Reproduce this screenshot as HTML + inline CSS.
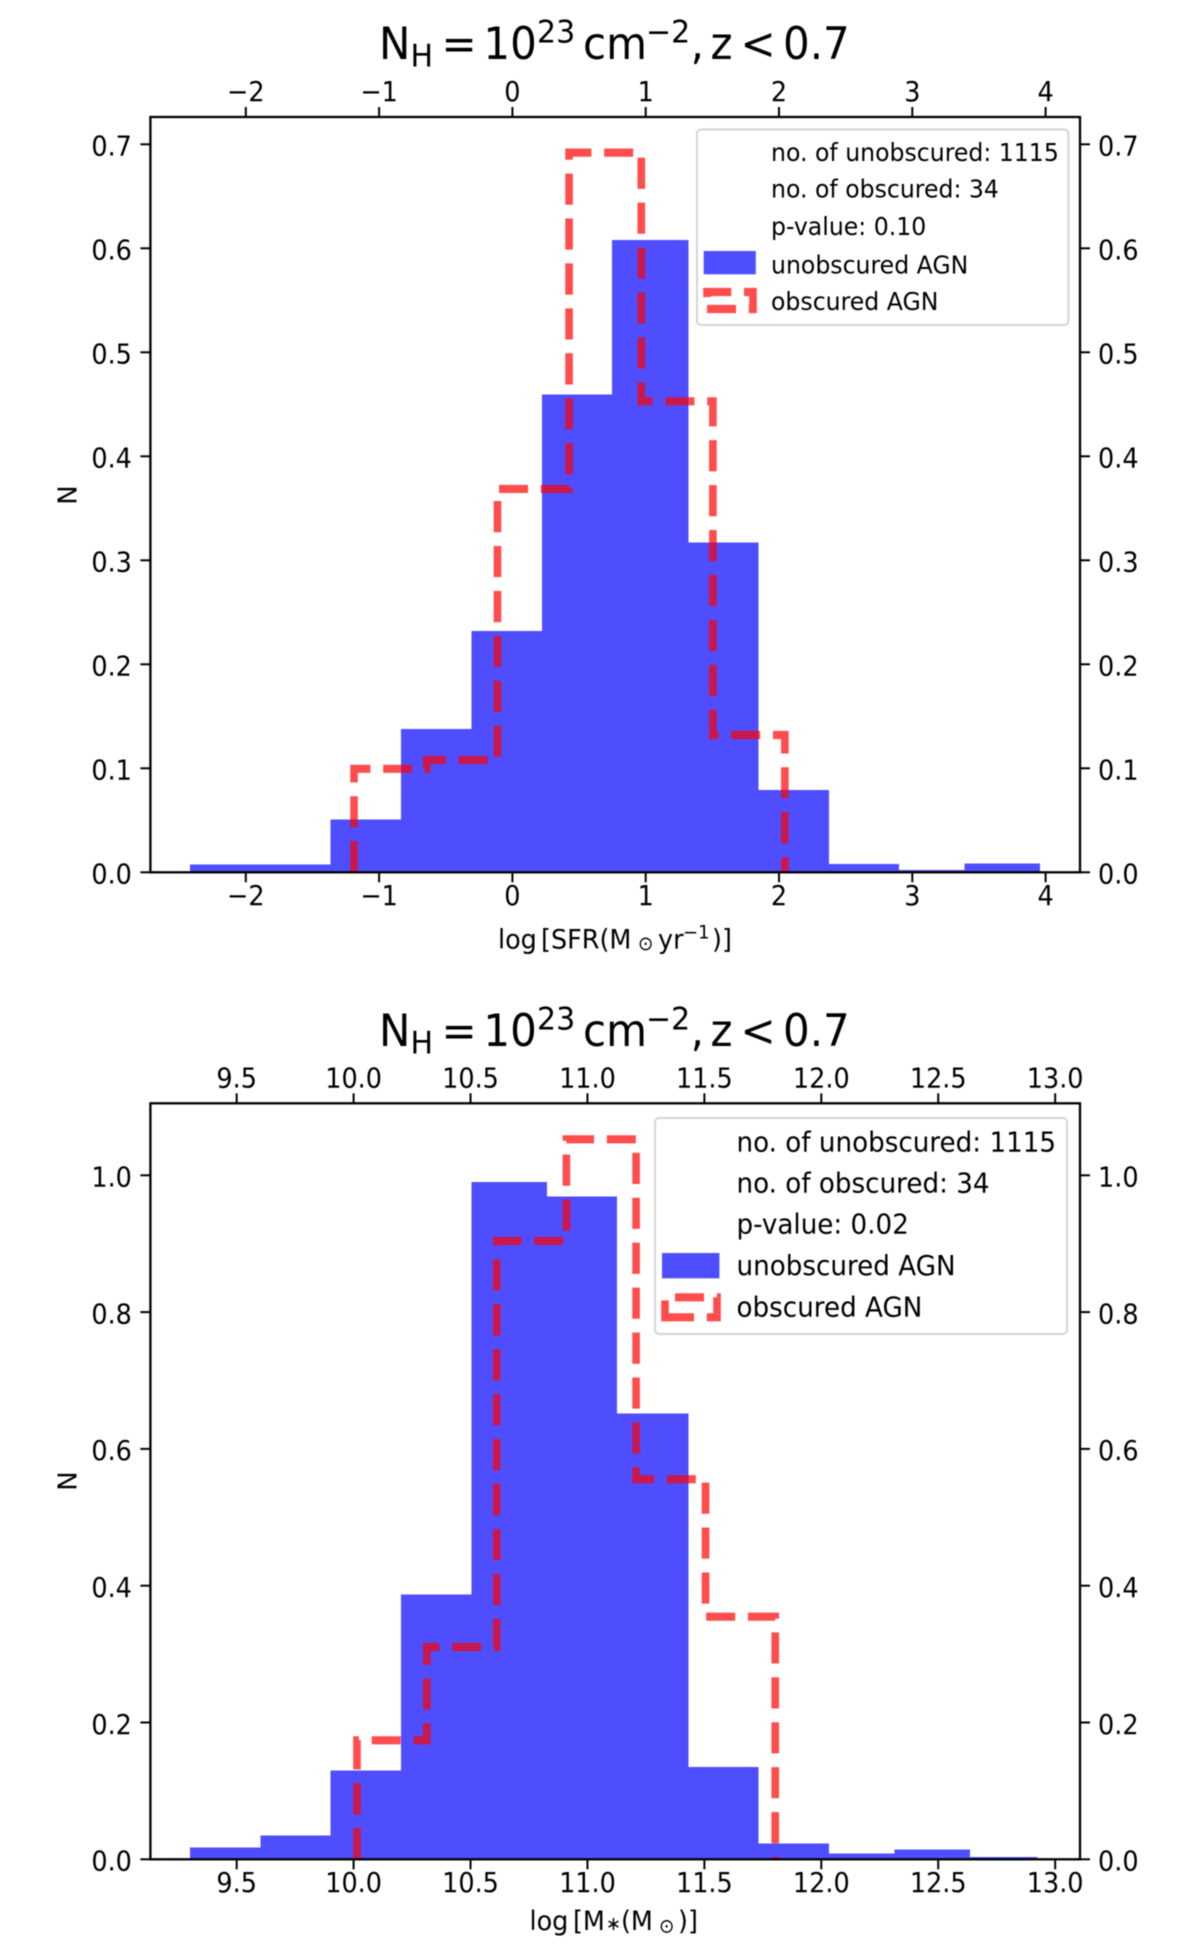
<!DOCTYPE html>
<html lang="en">
<head>
<meta charset="utf-8">
<title>Unobscured vs obscured AGN histograms</title>
<style>
html,body{margin:0;padding:0;background:#fff;}
svg{display:block;filter:blur(0.4px);}
text{font-family:"DejaVu Sans","Liberation Sans",sans-serif;fill:#000;}
</style>
</head>
<body>
<svg id="figure" xmlns="http://www.w3.org/2000/svg" width="1200" height="1959" viewBox="0 0 1200 1959">
  <rect x="0" y="0" width="1200" height="1959" fill="#fff"/>

  <!-- top panel -->
  <g id="sfr-chart"></g>
  <g font-size="42">
    <text transform="translate(379,59) scale(1,1.05)">N</text>
    <text transform="translate(410.5,66.7) scale(1,1.05)" font-size="30">H</text>
    <text transform="translate(441.5,59) scale(1,1.05)">=</text>
    <text transform="translate(483.4,59) scale(1,1.05)">10</text>
    <text transform="translate(537,42.7) scale(1,1.05)" font-size="30">23</text>
    <text transform="translate(583,59) scale(1,1.05)">cm</text>
    <text transform="translate(646,42.7) scale(1,1.05)" font-size="30">−2</text>
    <text transform="translate(690.6,59) scale(1,1.05)">,</text>
    <text transform="translate(710.5,59) scale(1,1.05)">z</text>
    <text transform="translate(740.5,59) scale(1,1.05)">&lt;</text>
    <text transform="translate(783,59) scale(1,1.05)">0.7</text>
  </g>
  <text transform="translate(76.5,495) rotate(-90)" font-size="26" text-anchor="middle">N</text>
  <text transform="translate(0,948.3) scale(1,1.05)" font-size="25.5"><tspan x="498" y="0">log</tspan><tspan x="541" y="0">[SFR(M</tspan><tspan x="638" y="1.5" font-size="18.5">⊙</tspan><tspan x="658" y="0">yr</tspan><tspan x="683" y="-9.5" font-size="18">−1</tspan><tspan x="712" y="0">)]</tspan></text>
  <g>
    <rect x="697" y="129.5" width="371.4" height="195.5" rx="4" fill="#fff" fill-opacity="0.85" stroke="#d4d4d4" stroke-width="2"/>
    <rect x="703.7" y="251" width="52.1" height="23.3" fill="#4e4eff"/>
    <path transform="scale(1,1.075)" d="M707,287.44 H753 V271.63 H707 Z" fill="none" stroke="#ff0000" stroke-opacity="0.7" stroke-width="7.6" stroke-dasharray="29 12.8"/>
    <g font-size="23.6">
      <text transform="translate(771,161) scale(1,1.04)">no. of unobscured: 1115</text>
      <text transform="translate(771,197.7) scale(1,1.04)">no. of obscured: 34</text>
      <text transform="translate(771,235) scale(1,1.04)">p-value: 0.10</text>
      <text transform="translate(771,273.3) scale(1,1.04)">unobscured AGN</text>
      <text transform="translate(771,310) scale(1,1.04)">obscured AGN</text>
    </g>
  </g>

  <!-- bottom panel -->
  <g id="mass-chart"></g>
  <g font-size="42">
    <text transform="translate(379,1046) scale(1,1.05)">N</text>
    <text transform="translate(410.5,1053.7) scale(1,1.05)" font-size="30">H</text>
    <text transform="translate(441.5,1046) scale(1,1.05)">=</text>
    <text transform="translate(483.4,1046) scale(1,1.05)">10</text>
    <text transform="translate(537,1029.7) scale(1,1.05)" font-size="30">23</text>
    <text transform="translate(583,1046) scale(1,1.05)">cm</text>
    <text transform="translate(646,1029.7) scale(1,1.05)" font-size="30">−2</text>
    <text transform="translate(690.6,1046) scale(1,1.05)">,</text>
    <text transform="translate(710.5,1046) scale(1,1.05)">z</text>
    <text transform="translate(740.5,1046) scale(1,1.05)">&lt;</text>
    <text transform="translate(783,1046) scale(1,1.05)">0.7</text>
  </g>
  <text transform="translate(76.5,1481) rotate(-90)" font-size="26" text-anchor="middle">N</text>
  <text transform="translate(0,1930) scale(1,1.05)" font-size="25.5"><tspan x="529.5" y="0">log</tspan><tspan x="573" y="0">[M</tspan><tspan x="606" y="0" font-size="18">∗</tspan><tspan x="621" y="0">(M</tspan><tspan x="659" y="2.5" font-size="18.5">⊙</tspan><tspan x="678" y="0">)]</tspan></text>
  <g>
    <rect x="655" y="1118" width="412" height="216" rx="4" fill="#fff" fill-opacity="0.85" stroke="#d4d4d4" stroke-width="2"/>
    <rect x="662" y="1253" width="57.4" height="25.3" fill="#4e4eff"/>
    <path transform="scale(1,1.075)" d="M665,1225.4 H717 V1206.8 H665 Z" fill="none" stroke="#ff0000" stroke-opacity="0.7" stroke-width="7.6" stroke-dasharray="29 12.8"/>
    <g font-size="26.2">
      <text transform="translate(736.5,1151.7) scale(1,1.04)">no. of unobscured: 1115</text>
      <text transform="translate(736.5,1192.5) scale(1,1.04)">no. of obscured: 34</text>
      <text transform="translate(736.5,1233.5) scale(1,1.04)">p-value: 0.02</text>
      <text transform="translate(736.5,1275) scale(1,1.04)">unobscured AGN</text>
      <text transform="translate(736.5,1316.7) scale(1,1.04)">obscured AGN</text>
    </g>
  </g>
</svg>

<script>
// ---- top panel data (log SFR) ----
const sfrBinEdges = [-2.42, -1.892, -1.364, -0.836, -0.307, 0.221, 0.749, 1.32, 1.845, 2.374, 2.899, 3.393, 3.958];
const sfrUnobscured = [0.0073, 0.0073, 0.051, 0.138, 0.232, 0.4596, 0.608, 0.3173, 0.0791, 0.008, 0.0022, 0.0087];
const sfrObscuredEdges = [-1.188, -0.643, -0.112, 0.425, 0.967, 1.504, 2.044];
const sfrObscured = [0.0995, 0.108, 0.3686, 0.692, 0.4529, 0.132];
const sfrXTicks = [-2, -1, 0, 1, 2, 3, 4];
const sfrXTickLabels = ['−2', '−1', '0', '1', '2', '3', '4'];
const sfrYTicks = [0, 0.1, 0.2, 0.3, 0.4, 0.5, 0.6, 0.7];
const sfrYTickLabels = ['0.0', '0.1', '0.2', '0.3', '0.4', '0.5', '0.6', '0.7'];

// ---- bottom panel data (log stellar mass) ----
const massBinEdges = [9.3, 9.601, 9.902, 10.203, 10.504, 10.827, 11.127, 11.432, 11.731, 12.032, 12.312, 12.635, 12.924];
const massUnobscured = [0.017, 0.0345, 0.13, 0.387, 0.99, 0.969, 0.652, 0.135, 0.0234, 0.0088, 0.0146, 0.003];
const massObscuredEdges = [10.0145, 10.313, 10.612, 10.91, 11.208, 11.505, 11.803];
const massObscured = [0.174, 0.3104, 0.904, 1.0526, 0.5556, 0.3547];
const massXTicks = [9.5, 10, 10.5, 11, 11.5, 12, 12.5, 13];
const massXTickLabels = ['9.5', '10.0', '10.5', '11.0', '11.5', '12.0', '12.5', '13.0'];
const massYTicks = [0, 0.2, 0.4, 0.6, 0.8, 1];
const massYTickLabels = ['0.0', '0.2', '0.4', '0.6', '0.8', '1.0'];

const SVGNS = 'http://www.w3.org/2000/svg';
const TICK_SIZE = 25.5;
const TICK_STRETCH = 1.07;
const LINE_STRETCH = 1.075;

function linearScale(d0, p0, d1, p1) {
  return function (v) { return p0 + (v - d0) * (p1 - p0) / (d1 - d0); };
}

function shape(tag) {
  return document.createElementNS(SVGNS, tag);
}

function setLine(el, x1, y1, x2, y2) {
  el.setAttribute('x1', x1);
  el.setAttribute('y1', y1);
  el.setAttribute('x2', x2);
  el.setAttribute('y2', y2);
  el.setAttribute('stroke', '#000');
  el.setAttribute('stroke-width', '2');
}

function setLabel(el, x, y, anchor, str) {
  el.setAttribute('transform', 'translate(' + x + ',' + y + ') scale(1,' + TICK_STRETCH + ')');
  el.setAttribute('font-size', TICK_SIZE);
  el.setAttribute('text-anchor', anchor);
  el.textContent = str;
}

function drawPanel(root, c) {
  const left = c.left, right = c.right, top = c.top, bottom = c.bottom;

  // histogram bars
  c.values.forEach(function (v, i) {
    const bar = shape('rect');
    
    
    bar.setAttribute('x', c.x(c.edges[i]));
    bar.setAttribute('y', c.y(v));
    bar.setAttribute('width', c.x(c.edges[i + 1]) - c.x(c.edges[i]));
    bar.setAttribute('height', c.y(0) - c.y(v));
    bar.setAttribute('fill', '#4e4eff');
    bar.setAttribute('shape-rendering', 'crispEdges');
    root.appendChild(bar);
  });

  // obscured step outline; the source figure is stretched vertically, so the
  // dashes and stroke are laid out in unstretched space and then scaled
  function sy(v) { return c.y(v) / LINE_STRETCH; }
  let d = 'M' + c.x(c.stepEdges[0]) + ',' + sy(0);
  c.stepValues.forEach(function (v, i) {
    d += ' L' + c.x(c.stepEdges[i]) + ',' + sy(v);
    d += ' L' + c.x(c.stepEdges[i + 1]) + ',' + sy(v);
  });
  d += ' L' + c.x(c.stepEdges[c.stepEdges.length - 1]) + ',' + sy(0);
  const step = shape('path');
  
  
  step.setAttribute('transform', 'scale(1,' + LINE_STRETCH + ')');
  step.setAttribute('d', d);
  step.setAttribute('fill', 'none');
  step.setAttribute('stroke', '#ff0000');
  step.setAttribute('stroke-opacity', '0.7');
  step.setAttribute('stroke-width', '7.6');
  step.setAttribute('stroke-dasharray', '29 12.8');
  step.setAttribute('stroke-linejoin', 'miter');
  root.appendChild(step);

  // spines
  const frame = shape('rect');
  
  
  frame.setAttribute('x', left);
  frame.setAttribute('y', top);
  frame.setAttribute('width', right - left);
  frame.setAttribute('height', bottom - top);
  frame.setAttribute('fill', 'none');
  frame.setAttribute('stroke', '#000');
  frame.setAttribute('stroke-width', '2.3');
  root.appendChild(frame);

  // x ticks, top and bottom
  c.xTicks.forEach(function (t, i) {
    const px = c.x(t);
    const lowTick = shape('line');
    
    
    setLine(lowTick, px, bottom, px, bottom + 10);
    root.appendChild(lowTick);

    const highTick = shape('line');
    
    
    setLine(highTick, px, top, px, top - 10);
    root.appendChild(highTick);

    const lowLabel = shape('text');
    
    
    setLabel(lowLabel, px, bottom + 32.6, 'middle', c.xLabels[i]);
    root.appendChild(lowLabel);

    const highLabel = shape('text');
    
    
    setLabel(highLabel, px, top - 15.8, 'middle', c.xLabels[i]);
    root.appendChild(highLabel);
  });

  // y ticks, left and right
  c.yTicks.forEach(function (t, i) {
    const py = c.y(t);
    const leftTick = shape('line');
    
    
    setLine(leftTick, left, py, left - 10, py);
    root.appendChild(leftTick);

    const rightTick = shape('line');
    
    
    setLine(rightTick, right, py, right + 10, py);
    root.appendChild(rightTick);

    const leftLabel = shape('text');
    
    
    setLabel(leftLabel, left - 18.5, py + 11.3, 'end', c.yLabels[i]);
    root.appendChild(leftLabel);

    const rightLabel = shape('text');
    
    
    setLabel(rightLabel, right + 18, py + 11.3, 'start', c.yLabels[i]);
    root.appendChild(rightLabel);
  });
}

drawPanel(document.getElementById('sfr-chart'), {
  left: 150.4, right: 1080, top: 117, bottom: 872.3,
  x: linearScale(0, 512.4, 1, 645.7),
  y: linearScale(0, 872.3, 0.7, 144.3),
  edges: sfrBinEdges, values: sfrUnobscured,
  stepEdges: sfrObscuredEdges, stepValues: sfrObscured,
  xTicks: sfrXTicks, xLabels: sfrXTickLabels,
  yTicks: sfrYTicks, yLabels: sfrYTickLabels
});

drawPanel(document.getElementById('mass-chart'), {
  left: 150.4, right: 1080, top: 1103.3, bottom: 1859.3,
  x: linearScale(10, 353.6, 13, 1055.15),
  y: linearScale(0, 1859.3, 1, 1175.3),
  edges: massBinEdges, values: massUnobscured,
  stepEdges: massObscuredEdges, stepValues: massObscured,
  xTicks: massXTicks, xLabels: massXTickLabels,
  yTicks: massYTicks, yLabels: massYTickLabels
});
</script>
</body>
</html>
